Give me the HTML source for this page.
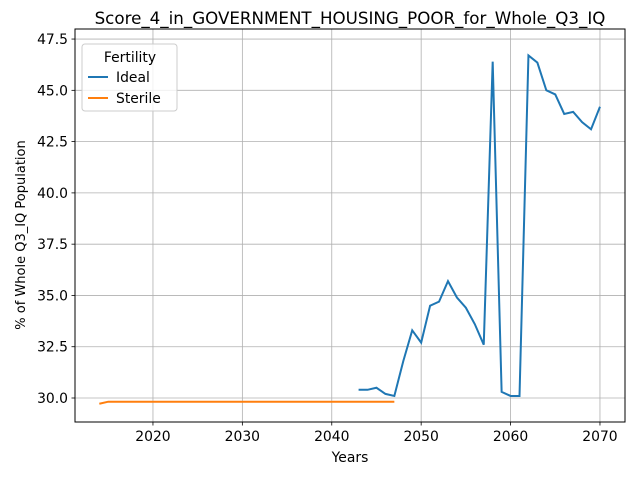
<!DOCTYPE html>
<html><head><meta charset="utf-8"><style>
body{margin:0;background:#fff;font-family:"Liberation Sans","DejaVu Sans",sans-serif}
svg text{font-family:"DejaVu Sans","Liberation Sans",sans-serif;fill:#000}
</style></head><body>
<svg id="c" width="640" height="480" viewBox="0 0 640 480"></svg>
<script>
const years = [2043,2044,2045,2046,2047,2048,2049,2050,2051,2052,2053,2054,2055,2056,2057,2058,2059,2060,2061,2062,2063,2064,2065,2066,2067,2068,2069,2070];
const idealValues = [30.4,30.4,30.5,30.2,30.1,31.8,33.3,32.7,34.5,34.7,35.7,34.9,34.4,33.6,32.6,46.4,30.3,30.1,30.1,46.7,46.35,45.0,44.8,43.85,43.95,43.45,43.1,44.2];
const sterileYears = [2014,2015,2016,2017,2018,2019,2020,2021,2022,2023,2024,2025,2026,2027,2028,2029,2030,2031,2032,2033,2034,2035,2036,2037,2038,2039,2040,2041,2042,2043,2044,2045,2046,2047];
const sterileValues = [29.72,29.82,29.82,29.82,29.82,29.82,29.82,29.82,29.82,29.82,29.82,29.82,29.82,29.82,29.82,29.82,29.82,29.82,29.82,29.82,29.82,29.82,29.82,29.82,29.82,29.82,29.82,29.82,29.82,29.82,29.82,29.82,29.82,29.82];
const xTicks = [2020,2030,2040,2050,2060,2070];
const yTicks = [30.0,32.5,35.0,37.5,40.0,42.5,45.0,47.5];

const L=75,R=625,T=29,B=422;
const x0=2011.28,x1=2072.8,y0=28.83,y1=47.99;
const X=v=>L+(v-x0)/(x1-x0)*(R-L);
const Y=v=>B-(v-y0)/(y1-y0)*(B-T);
const svg=document.getElementById('c');
const NS='http://www.w3.org/2000/svg';
function mk(tag,attrs,parent){const e=document.createElementNS(NS,tag);for(const k in attrs)e.setAttribute(k,attrs[k]);(parent||svg).appendChild(e);return e;}

xTicks.forEach(t=>{
  const g=mk('line',{x1:X(t),x2:X(t),y1:T,y2:B,stroke:'#b0b0b0','stroke-width':0.8});
  
  
  mk('line',{x1:X(t),x2:X(t),y1:B,y2:B+3.5,stroke:'#000','stroke-width':0.8});
  const tx=mk('text',{x:X(t),y:B+19,'text-anchor':'middle','font-size':13.9});
  tx.textContent=t;
  
  
});
yTicks.forEach(t=>{
  const g=mk('line',{x1:L,x2:R,y1:Y(t),y2:Y(t),stroke:'#b0b0b0','stroke-width':0.8});
  
  
  mk('line',{x1:L-3.5,x2:L,y1:Y(t),y2:Y(t),stroke:'#000','stroke-width':0.8});
  const tx=mk('text',{x:L-7,y:Y(t)+5,'text-anchor':'end','font-size':13.9});
  tx.textContent=t.toFixed(1);
  
  
});

const pi=mk('polyline',{points:years.map((y,i)=>X(y)+','+Y(idealValues[i])).join(' '),fill:'none',stroke:'#1f77b4','stroke-width':2});


const ps=mk('polyline',{points:sterileYears.map((y,i)=>X(y)+','+Y(sterileValues[i])).join(' '),fill:'none',stroke:'#ff7f0e','stroke-width':2});



const frame=mk('rect',{x:L,y:T,width:R-L,height:B-T,fill:'none',stroke:'#000','stroke-width':1});


</script>
<svg width="640" height="480" style="position:absolute;left:0;top:0">
<text x="350" y="29" dy="-5" text-anchor="middle" font-size="16.7">Score_4_in_GOVERNMENT_HOUSING_POOR_for_Whole_Q3_IQ</text>
<text x="350" y="462" text-anchor="middle" font-size="13.9">Years</text>
<text transform="translate(25,235) rotate(-90)" text-anchor="middle" font-size="13">% of Whole Q3_IQ Population</text>
<g>
<rect x="82" y="44" width="95" height="67" rx="3" fill="#fff" fill-opacity="0.8" stroke="#ccc" stroke-width="1"/>
<text x="130" y="62" text-anchor="middle" font-size="13.9">Fertility</text>
<line x1="88" x2="108" y1="77" y2="77" stroke="#1f77b4" stroke-width="2"/>
<text x="116" y="82" font-size="13.9">Ideal</text>
<line x1="88" x2="108" y1="98" y2="98" stroke="#ff7f0e" stroke-width="2"/>
<text x="116" y="103" font-size="13.9">Sterile</text>
</g>
</svg>
</body></html>
